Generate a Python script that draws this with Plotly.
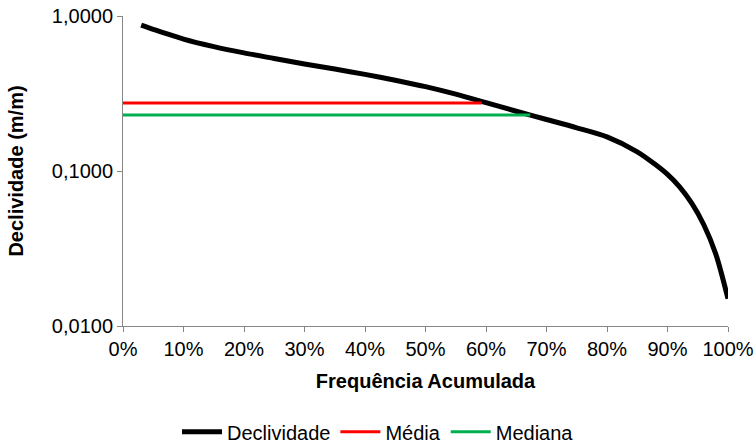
import plotly.graph_objects as go

# Cumulative frequency (%) and slope (m/m)
freq_pct = [3, 5, 10, 15, 20, 25, 30, 35, 40, 45, 50, 55, 60, 65, 70, 75,
            80, 85, 88, 90, 92, 94, 96, 98, 100]
declividade = [0.872, 0.82, 0.71, 0.635, 0.578, 0.532, 0.49, 0.455, 0.42, 0.385,
               0.35, 0.313, 0.276, 0.243, 0.215, 0.19, 0.166, 0.133, 0.11,
               0.095, 0.079, 0.062, 0.045, 0.029, 0.015]

media_valor = 0.275
media_x = [0, 59.3]
mediana_valor = 0.23
mediana_x = [0, 67.3]

x_ticks = list(range(0, 101, 10))
x_tick_text = [f"{v}%" for v in x_ticks]
y_ticks = [0.01, 0.1, 1]
y_tick_text = ["0,0100", "0,1000", "1,0000"]

fig = go.Figure()
fig.add_trace(go.Scatter(
    x=freq_pct, y=declividade, mode="lines", name="Declividade",
    line=dict(color="black", width=5, shape="spline", smoothing=0.8),
))
fig.add_trace(go.Scatter(
    x=media_x, y=[media_valor] * len(media_x), mode="lines", name="Média",
    line=dict(color="#FF0000", width=3),
))
fig.add_trace(go.Scatter(
    x=mediana_x, y=[mediana_valor] * len(mediana_x), mode="lines", name="Mediana",
    line=dict(color="#00B050", width=3),
))

axis_color = "#868686"
fig.update_layout(
    width=756, height=447,
    margin=dict(l=123, r=28, t=16, b=121),
    paper_bgcolor="white", plot_bgcolor="white",
    font=dict(family="Liberation Sans, Arial, sans-serif", size=20, color="black"),
    showlegend=True,
    legend=dict(orientation="h", xref="container", x=0.5, xanchor="center",
                yref="container", y=0.034, yanchor="middle",
                font=dict(size=20), itemwidth=40, traceorder="normal"),
    xaxis=dict(
        range=[0, 100], tickvals=x_ticks, ticktext=x_tick_text,
        showline=True, linecolor=axis_color, linewidth=1,
        ticks="outside", ticklen=5, tickcolor=axis_color,
        showgrid=False, zeroline=False, automargin=False,
        title=dict(text="<b>Frequência Acumulada</b>", font=dict(size=20), standoff=14),
    ),
    yaxis=dict(
        type="log", range=[-2, 0],
        tickvals=y_ticks, ticktext=y_tick_text,
        showline=True, linecolor=axis_color, linewidth=1,
        ticks="outside", ticklen=5, tickcolor=axis_color,
        showgrid=False, zeroline=False, automargin=False,
        title=dict(text="<b>Declividade (m/m)</b>", font=dict(size=20), standoff=22),
    ),
)

fig.write_html("out.html")
